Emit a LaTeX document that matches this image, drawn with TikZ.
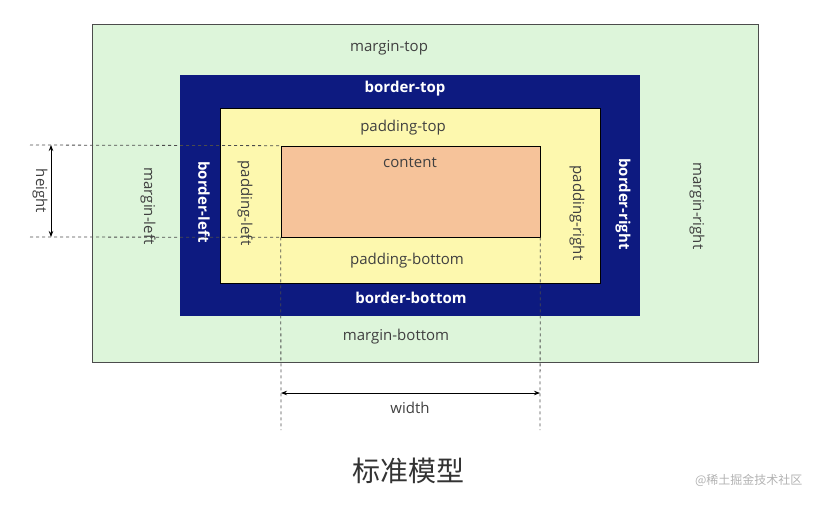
\documentclass[tikz,border=0pt]{standalone}
\usepackage{fontspec}
\setmainfont{Open Sans}
\newfontfamily\cjk{Noto Sans CJK SC}
\usetikzlibrary{arrows.meta}
\definecolor{mgreen}{HTML}{DDF5DA}
\definecolor{bblue}{HTML}{0D1A80}
\definecolor{pyel}{HTML}{FDF8AE}
\definecolor{corange}{HTML}{F6C39A}
\definecolor{tgray}{HTML}{404040}
\tikzset{
  lbl/.style={font=\fontsize{15}{17}\selectfont, text=tgray, inner sep=0pt},
  wlbl/.style={font=\fontsize{15}{17}\selectfont\bfseries, text=white, inner sep=0pt},
  dim/.style={dashed, black!70, line width=0.8pt},
  darr/.style={{Stealth[length=6pt]}-{Stealth[length=6pt]}, line width=0.8pt},
}
\begin{document}
\begin{tikzpicture}[x=1pt,y=-1pt]
\useasboundingbox (0,0) rectangle (816,504);
\node[draw=gray!60!black, fill=mgreen, line width=0.6pt, minimum width=666pt, minimum height=338pt, inner sep=0pt] (margin) at (425,193) {};
\node[fill=bblue, minimum width=460pt, minimum height=241pt, inner sep=0pt] (border) at (410,195.5) {};
\node[draw=black, fill=pyel, line width=0.6pt, minimum width=380pt, minimum height=175pt, inner sep=0pt] (padding) at (410,195.5) {};
\node[draw=black, fill=corange, line width=0.6pt, minimum width=259pt, minimum height=91pt, inner sep=0pt] (content) at (410.5,191.5) {};
\node[lbl] (mt) at (389,48) {margin-top};
\node[lbl] (mb) at (396,337) {margin-bottom};
\node[lbl, rotate=-90] (ml) at (148,206) {margin-left};
\node[lbl, rotate=-90] (mr) at (697,206) {margin-right};
\node[wlbl] (bt) at (405,89) {border-top};
\node[wlbl] (bb) at (411,298) {border-bottom};
\node[wlbl, rotate=-90] (bl) at (204,202) {border-left};
\node[wlbl, rotate=-90] (br) at (623,204) {border-right};
\node[lbl] (pt) at (403,128) {padding-top};
\node[lbl] (pb) at (407,261) {padding-bottom};
\node[lbl, rotate=-90] (pl) at (245,203) {padding-left};
\node[lbl, rotate=-90] (pr) at (577,213) {padding-right};
\node[lbl] (ct) at (410,163) {content};
% height
\coordinate (h1) at (30,145);
\coordinate (h2) at (30,237);
\draw[dim] (h1) -- (content.north west);
\draw[dim] (h2) -- (content.south west);
\coordinate (ha) at (51,145);
\coordinate (hb) at (51,237);
\draw[darr] (ha) -- (hb);
\node[lbl, rotate=-90] (ht) at (40,191) {height};
% width
\coordinate (w1) at (281,430);
\coordinate (w2) at (540,430);
\draw[dim] (content.south west) -- (w1);
\draw[dim] (content.south east) -- (w2);
\coordinate (wa) at (281,393);
\coordinate (wb) at (540,393);
\draw[darr] (wa) -- (wb);
\node[lbl] (wt) at (410,408) {width};
\node[font=\cjk\fontsize{28}{32}\selectfont, text=black!80] (title) at (408,471) {标准模型};
\node[font=\cjk\fontsize{12}{14}\selectfont, text=gray!60, anchor=east] (wm) at (806,480) {@稀土掘金技术社区};
\end{tikzpicture}
\end{document}
